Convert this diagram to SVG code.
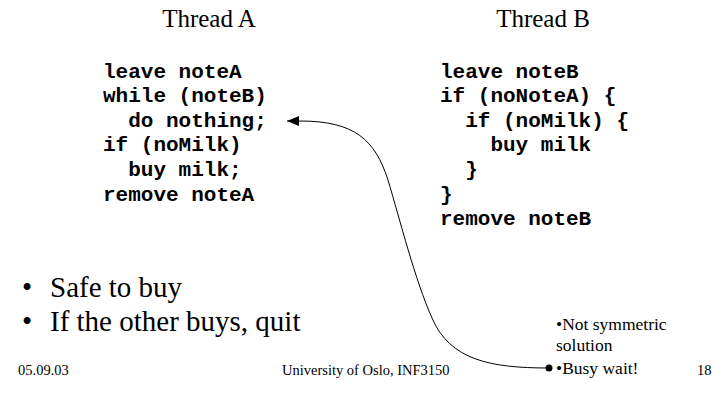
<svg xmlns="http://www.w3.org/2000/svg" width="727" height="395" viewBox="0 0 727 395">
  <defs>
    <style>
      .title { font-family: "Liberation Serif", "Times New Roman", serif; font-size: 25px; fill: #000; text-anchor: middle; }
      .code { font-family: "Liberation Mono", "Courier New", monospace; font-weight: bold; font-size: 21px; fill: #000; white-space: pre; }
      .bullet { font-family: "Liberation Serif", "Times New Roman", serif; font-size: 29px; fill: #000; }
      .note { font-family: "Liberation Serif", "Times New Roman", serif; font-size: 17.5px; fill: #000; }
      .footer { font-family: "Liberation Serif", "Times New Roman", serif; font-size: 14.5px; fill: #000; }
      .conn { fill: none; stroke: #000; stroke-width: 1; }
    </style>
    <marker id="arrow" viewBox="0 0 12 10" refX="12" refY="5" markerWidth="12" markerHeight="10" markerUnits="userSpaceOnUse" orient="auto">
      <path d="M0,0 L12,5 L0,10 z" fill="#000"/>
    </marker>
    <marker id="dot" viewBox="0 0 8 8" refX="4" refY="4" markerWidth="8" markerHeight="8" markerUnits="userSpaceOnUse">
      <circle cx="4" cy="4" r="3.5" fill="#000"/>
    </marker>
  </defs>
  <rect width="727" height="395" fill="#fff"/>

  <g id="threadA">
    <text class="title" x="209" y="27">Thread A</text>
    <text class="code" x="103" y="77.5">leave noteA</text>
    <text class="code" x="103" y="102.1">while (noteB)</text>
    <text class="code" x="103" y="126.7">  do nothing;</text>
    <text class="code" x="103" y="151.3">if (noMilk)</text>
    <text class="code" x="103" y="175.9">  buy milk;</text>
    <text class="code" x="103" y="200.5">remove noteA</text>
  </g>

  <g id="threadB">
    <text class="title" x="543" y="27">Thread B</text>
    <text class="code" x="440" y="77.5">leave noteB</text>
    <text class="code" x="440" y="102.1">if (noNoteA) {</text>
    <text class="code" x="440" y="126.7">  if (noMilk) {</text>
    <text class="code" x="440" y="151.3">    buy milk</text>
    <text class="code" x="440" y="175.9">  }</text>
    <text class="code" x="440" y="200.5">}</text>
    <text class="code" x="440" y="225.1">remove noteB</text>
  </g>

  <g id="bullets">
    <text class="bullet" x="22" y="297">•</text>
    <text class="bullet" x="50" y="297">Safe to buy</text>
    <text class="bullet" x="22" y="331">•</text>
    <text class="bullet" x="50" y="331">If the other buys, quit</text>
  </g>

  <g id="notes">
    <text class="note" x="556" y="330">•Not symmetric</text>
    <text class="note" x="556" y="351">solution</text>
    <text class="note" x="556" y="374">•Busy wait!</text>
  </g>

  <g id="footer">
    <text class="footer" x="18" y="375">05.09.03</text>
    <text class="footer" x="282" y="375">University of Oslo, INF3150</text>
    <text class="footer" x="697" y="375">18</text>
  </g>

  <g id="connectors">
    <path class="conn" d="M 549 368 C 490 368 450 360 432 318 C 415 280 400 220 388 180 C 375 140 355 121 300 121 L 287 121" marker-start="url(#dot)" marker-end="url(#arrow)"/>
  </g>
</svg>
